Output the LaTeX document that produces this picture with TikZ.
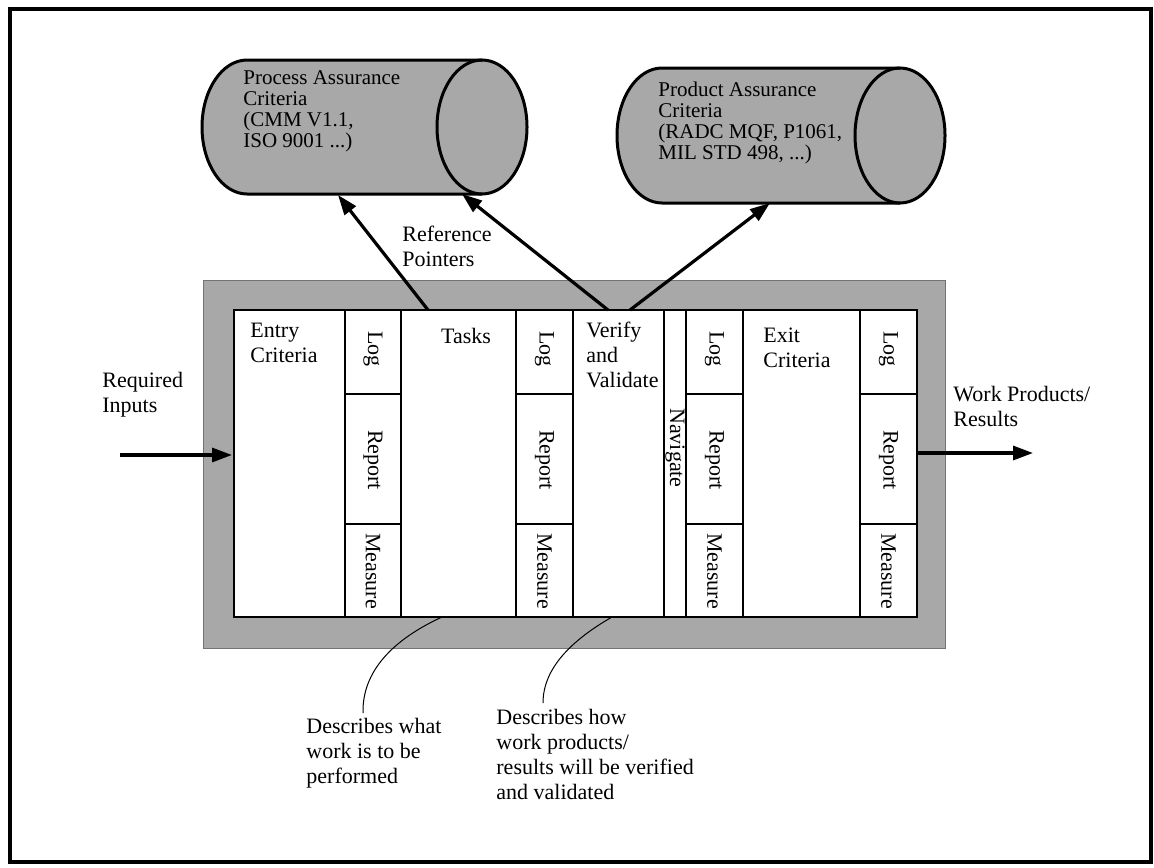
\documentclass[tikz,border=0pt]{standalone}
\usepackage{fontspec}
\setmainfont{Liberation Serif}
\usetikzlibrary{arrows.meta}
\definecolor{hatch}{gray}{0.66}
\begin{document}
\begin{tikzpicture}[x=0.5pt,y=-0.5pt,
  txt/.style={inner sep=0pt, align=left, anchor=north west, font=\fontsize{11}{12.5}\selectfont},
  ctxt/.style={inner sep=0pt, align=left, anchor=north west, font=\fontsize{10.5}{10.5}\selectfont},
  rot/.style={inner sep=0pt, rotate=-90, font=\fontsize{11}{12.5}\selectfont},
  cell/.style={draw=black, line width=0.6pt, fill=white},
  cylline/.style={draw=black, line width=1.5pt},
  bigarrow/.style={line width=1.6pt, -{Triangle[length=10pt,width=7pt]}},
  callout/.style={line width=0.5pt},
]
\useasboundingbox (0,0) rectangle (1154,867);
% outer frame
\draw[line width=1.75pt] (10,9) rectangle (1151,862);

% cylinder 1 (process assurance)
\fill[hatch] (482,60) -- (247,60) .. controls (222.15,60) and (202,90) .. (202,127)
  .. controls (202,164) and (222.15,194) .. (247,194) -- (482,194) -- cycle;
\fill[hatch] (482,127) ellipse [x radius=45, y radius=67];
\draw[cylline] (482,60) -- (247,60) .. controls (222.15,60) and (202,90) .. (202,127)
  .. controls (202,164) and (222.15,194) .. (247,194) -- (482,194);
\draw[cylline] (482,127) ellipse [x radius=45, y radius=67];
\node[ctxt] (pac) at (243,70) {Process Assurance\\Criteria\\(CMM V1.1,\\ISO 9001 ...)};

% cylinder 2 (product assurance)
\fill[hatch] (900,68) -- (662,68) .. controls (637.15,68) and (617,98) .. (617,135.5)
  .. controls (617,173) and (637.15,203) .. (662,203) -- (900,203) -- cycle;
\fill[hatch] (900,135.5) ellipse [x radius=45, y radius=67.5];
\draw[cylline] (900,68) -- (662,68) .. controls (637.15,68) and (617,98) .. (617,135.5)
  .. controls (617,173) and (637.15,203) .. (662,203) -- (900,203);
\draw[cylline] (900,135.5) ellipse [x radius=45, y radius=67.5];
\node[ctxt] (pdc) at (658,82) {Product Assurance\\Criteria\\(RADC MQF, P1061,\\MIL STD 498, ...)};

% shaded process box
\fill[hatch, draw=black!55, line width=0.4pt] (203,280) rectangle (945,648);

% main cells
\draw[cell] (234,310) rectangle (345,617);
\draw[cell] (401,310) rectangle (516,617);
\draw[cell] (573,310) rectangle (664,617);
\draw[cell] (664,310) rectangle (686,617);
\draw[cell] (743,310) rectangle (860,617);
\foreach \a/\b [count=\i] in {345/401, 516/573, 686/743, 860/917} {
  \draw[cell] (\a,310) rectangle (\b,394);
  \draw[cell] (\a,394) rectangle (\b,524);
  \draw[cell] (\a,524) rectangle (\b,617);
  \node[rot] (log\i) at ({(\a+\b)/2},349) {Log};
  \node[rot] (rep\i) at ({(\a+\b)/2},460) {Report};
  \node[rot] (mea\i) at ({(\a+\b)/2},571) {Measure};
}
\node[rot] (nav) at (675,448) {Navigate};

% texts
\node[txt] (entry) at (250,323) {Entry\\Criteria};
\node[txt, anchor=north] (tasks) at (466,328) {Tasks};
\node[txt] (verify) at (586,322) {Verify\\and\\Validate};
\node[txt] (exit) at (763,328) {Exit\\Criteria};
\node[txt] (req) at (102,372) {Required\\Inputs};
\node[txt] (ref) at (402,226) {Reference\\Pointers};
\node[txt] (wp) at (953,386) {Work Products/\\Results};
\node[txt] (dw) at (306,718) {Describes what\\work is to be\\performed};
\node[txt] (dh) at (496,709) {Describes how\\work products/\\results will be verified\\and validated};

% connector end points
\coordinate (inL) at (120,455);  \coordinate (inR) at (232,455);
\coordinate (outL) at (917,453); \coordinate (outR) at (1033,453);
\coordinate (a1s) at (428,310);  \coordinate (a1e) at (338,195);
\coordinate (a2s) at (608,310);  \coordinate (a2e) at (462,194);
\coordinate (a3s) at (630,310);  \coordinate (a3e) at (770,203);
\coordinate (c1s) at (442,617);  \coordinate (c1e) at (363,713);
\coordinate (c2s) at (612,617);  \coordinate (c2e) at (543,703);

% arrows
\draw[bigarrow] (inL) -- (inR);
\draw[bigarrow] (outL) -- (outR);
\draw[bigarrow] (a1s) -- (a1e);
\draw[bigarrow] (a2s) -- (a2e);
\draw[bigarrow] (a3s) -- (a3e);

% callout curves
\draw[callout] (c1s) .. controls (392,640) and (362,672) .. (c1e);
\draw[callout] (c2s) .. controls (572,640) and (543,668) .. (c2e);
\end{tikzpicture}
\end{document}
